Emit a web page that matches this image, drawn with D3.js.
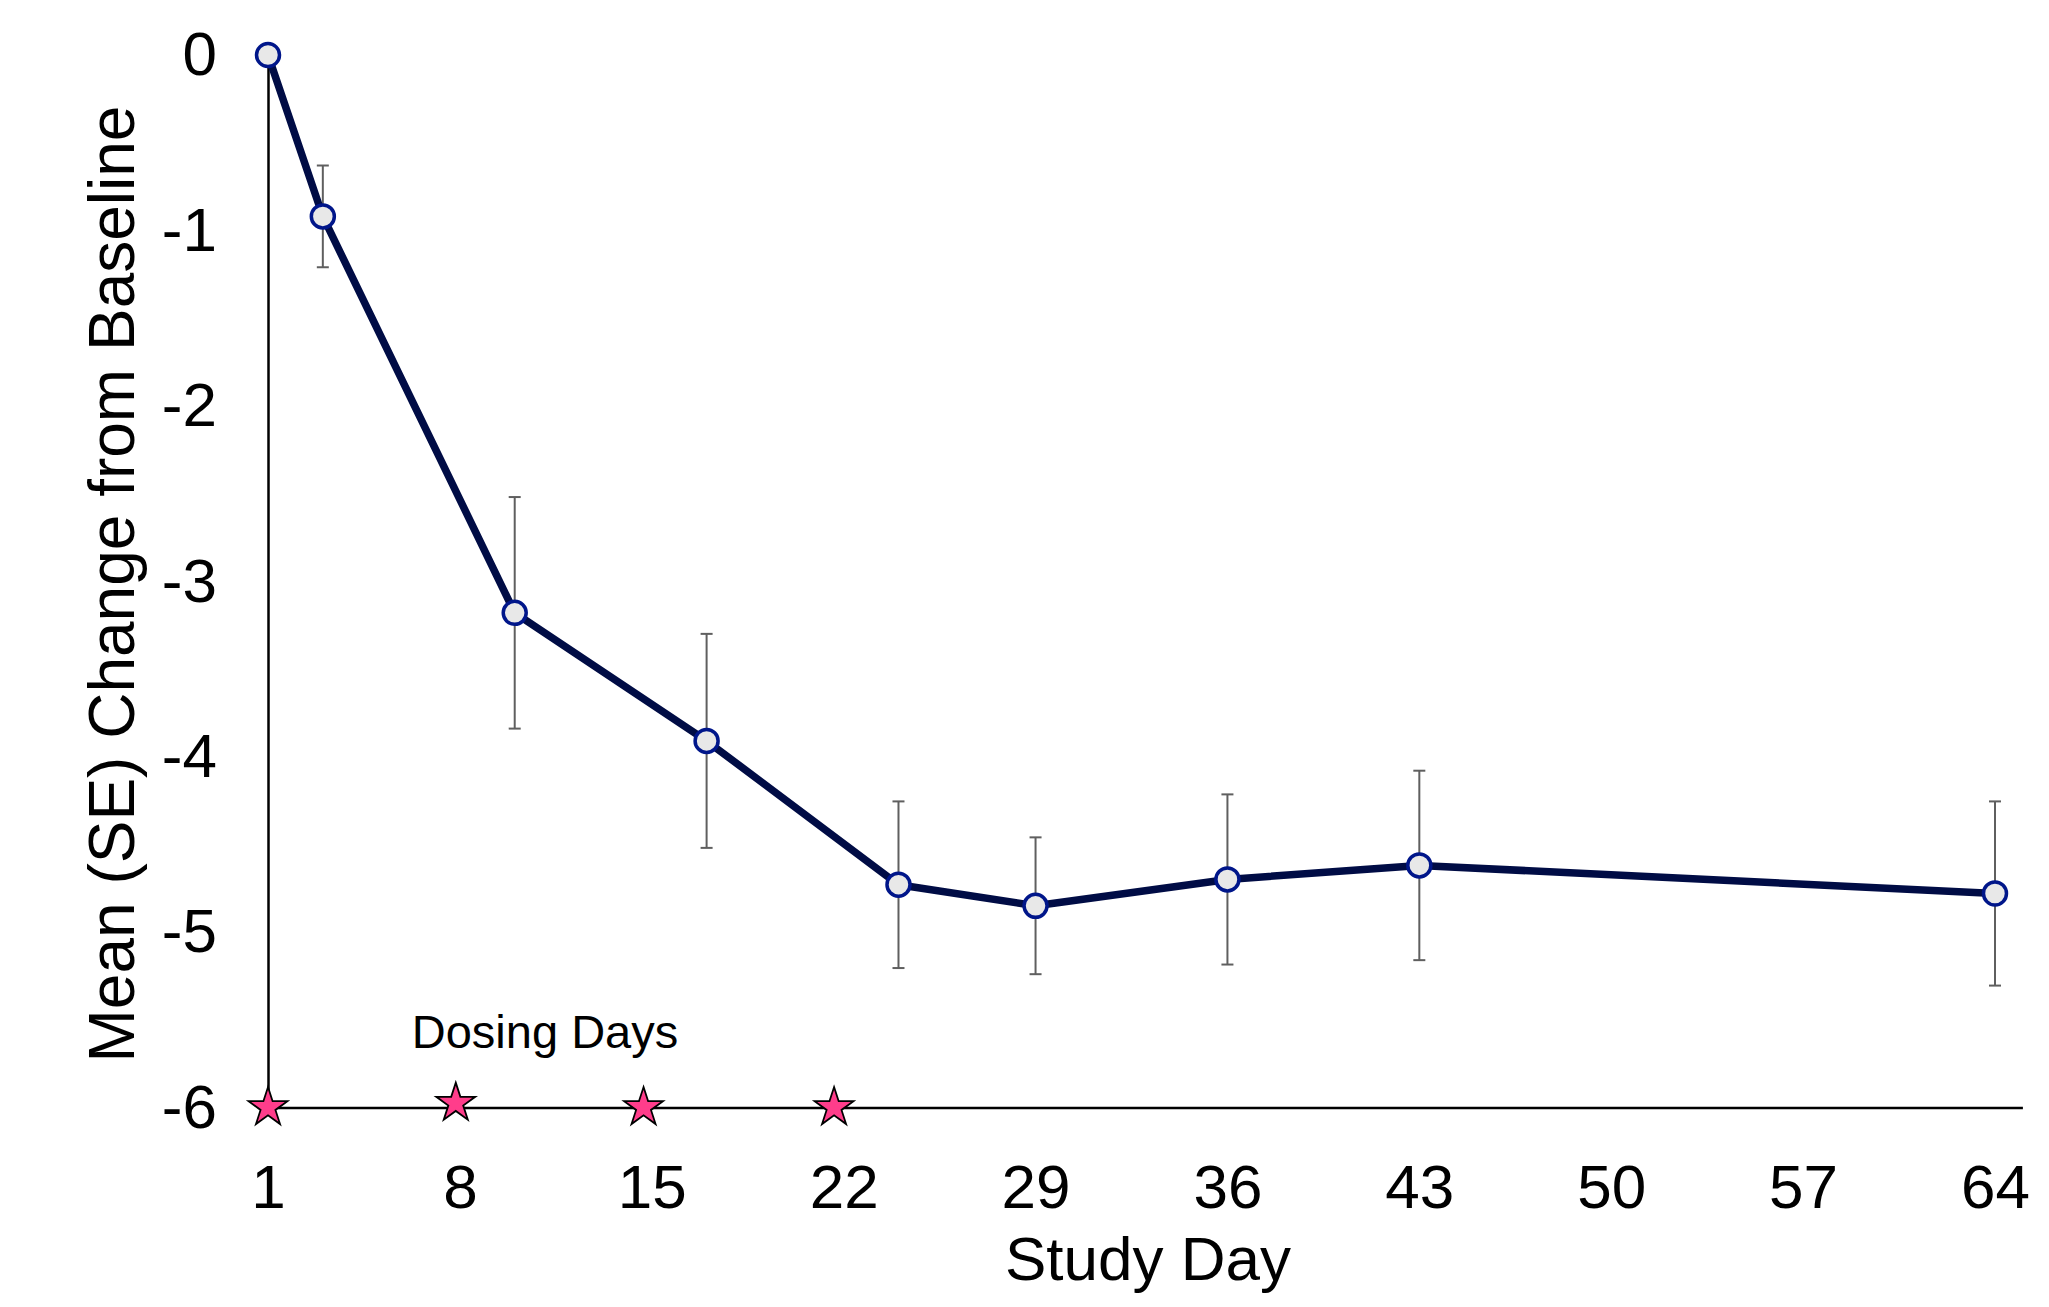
<!DOCTYPE html>
<html>
<head>
<meta charset="utf-8">
<script src="https://cdn.jsdelivr.net/npm/d3@7"></script>
<style>
  html, body { margin: 0; padding: 0; background: #ffffff; }
  svg { display: block; }
  text { font-family: Arial, "Liberation Sans", Helvetica, sans-serif; fill: #000; }
</style>
</head>
<body>
<svg id="chart" width="2049" height="1307"></svg>
<script>
// ---- data ----
const studyDays   = [1, 3, 10, 17, 24, 29, 36, 43, 64];
const meanChange  = [0, -0.92, -3.18, -3.91, -4.73, -4.85, -4.70, -4.62, -4.78];
const seValues    = [0, 0.29, 0.66, 0.61, 0.475, 0.39, 0.485, 0.54, 0.525];
const xTickDays   = [1, 8, 15, 22, 29, 36, 43, 50, 57, 64];
const yTickValues = [0, -1, -2, -3, -4, -5, -6];
const dosingDays  = [1, 7.85, 14.7, 21.65];
const dosingLevel = [-6, -5.975, -6, -6];
const xTitle = "Study Day";
const yTitle = "Mean (SE) Change from Baseline";
const dosingLabel = "Dosing Days";

const points = studyDays.map((d, i) => ({ day: d, mean: meanChange[i], se: seValues[i] }));

const svg = d3.select("#chart");
svg.append("rect").attr("width", 2049).attr("height", 1307).attr("fill", "#fff");

const x = d3.scaleLinear().domain([1, 65]).range([268, 2022.4]);
const y = d3.scaleLinear().domain([-6, 0]).range([1107.5, 55]);

// axes
const xAxis = d3.axisBottom(x).tickValues(xTickDays).tickSize(0).tickPadding(56).tickFormat(d3.format("d"));
const gx = svg.append("g").attr("transform", `translate(0,${y(-6)})`).call(xAxis);
gx.select(".domain").attr("stroke", "#000").attr("stroke-width", 2.5);
gx.selectAll(".tick text").attr("font-size", 62).attr("font-family", "Arial, 'Liberation Sans', sans-serif")
  .attr("fill", "#000");

const yAxis = d3.axisLeft(y).tickValues(yTickValues).tickSize(0).tickPadding(51).tickFormat(d3.format("d"));
const gy = svg.append("g").attr("transform", `translate(${x(1)},0)`).call(yAxis);
gy.select(".domain").attr("stroke", "#000").attr("stroke-width", 2.5);
gy.selectAll(".tick text").attr("font-size", 62).attr("font-family", "Arial, 'Liberation Sans', sans-serif")
  .attr("fill", "#000").text(d => d === 0 ? "0" : String(d).replace("\u2212", "-"));

// axis titles
svg.append("text").attr("x", 1148).attr("y", 1280).attr("text-anchor", "middle")
  .attr("font-size", 62).text(xTitle);
svg.append("text").attr("transform", "translate(134,584) rotate(-90)").attr("text-anchor", "middle")
  .attr("font-size", 64).text(yTitle);

// dosing label
svg.append("text").attr("x", 545).attr("y", 1048).attr("text-anchor", "middle")
  .attr("font-size", 47).text(dosingLabel);

// dosing stars
svg.append("g").selectAll("path").data(dosingDays.map((d, i) => ({ day: d, v: dosingLevel[i] })))
  .join("path")
  .attr("transform", d => `translate(${x(d.day)},${y(d.v)})`)
  .attr("d", d3.symbol().type(d3.symbolStar).size(470))
  .attr("fill", "#ff3d8b").attr("stroke", "#000").attr("stroke-width", 1.8);

// error bars
const eb = svg.append("g").attr("stroke", "#5f5f5f").attr("stroke-width", 2).attr("fill", "none");
points.filter(p => p.se > 0).forEach(p => {
  const cx = x(p.day), t = y(p.mean + p.se), b = y(p.mean - p.se);
  eb.append("line").attr("x1", cx).attr("x2", cx).attr("y1", t).attr("y2", b);
  eb.append("line").attr("x1", cx - 6).attr("x2", cx + 6).attr("y1", t).attr("y2", t);
  eb.append("line").attr("x1", cx - 6).attr("x2", cx + 6).attr("y1", b).attr("y2", b);
});

// mean line
svg.append("path").datum(points)
  .attr("d", d3.line().x(d => x(d.day)).y(d => y(d.mean)))
  .attr("fill", "none").attr("stroke", "#000c45").attr("stroke-width", 7.5)
  .attr("stroke-linejoin", "round");

// markers
svg.append("g").selectAll("circle").data(points).join("circle")
  .attr("cx", d => x(d.day)).attr("cy", d => y(d.mean)).attr("r", 11.5)
  .attr("fill", "#e8e8e8").attr("stroke", "#00168a").attr("stroke-width", 3.5);
</script>
</body>
</html>
